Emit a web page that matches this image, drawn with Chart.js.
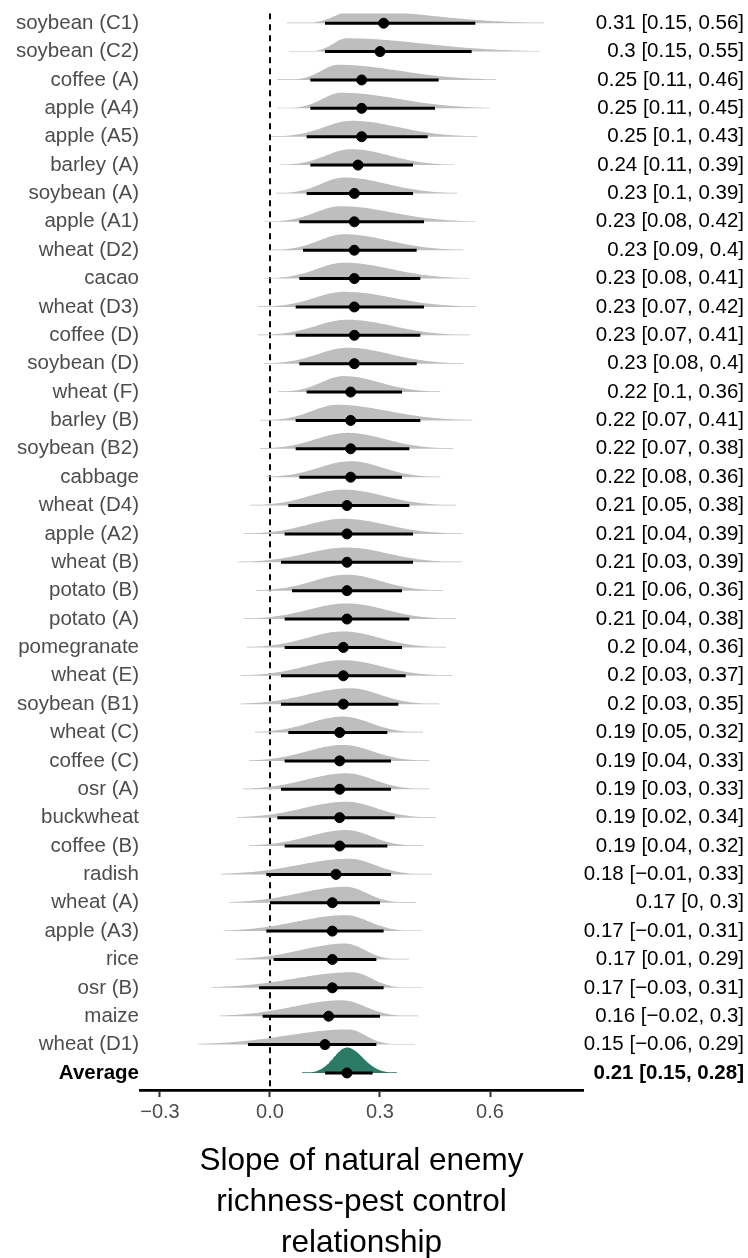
<!DOCTYPE html>
<html>
<head>
<meta charset="utf-8">
<script src="https://cdn.jsdelivr.net/npm/chart.js"></script>
<style>
    body { margin: 0; background: #fff; }
    #wrap { width: 748px; height: 1258px; }
</style>
</head>
<body>
<div id="wrap"><canvas id="myChart"></canvas></div>

<script>
    // Datos (de arriba abajo)
    var categories = ['soybean (C1)', 'soybean (C2)', 'coffee (A)', 'apple (A4)', 'apple (A5)', 'barley (A)',
        'soybean (A)', 'apple (A1)', 'wheat (D2)', 'cacao', 'wheat (D3)', 'coffee (D)', 'soybean (D)',
        'wheat (F)', 'barley (B)', 'soybean (B2)', 'cabbage', 'wheat (D4)', 'apple (A2)', 'wheat (B)',
        'potato (B)', 'potato (A)', 'pomegranate', 'wheat (E)', 'soybean (B1)', 'wheat (C)', 'coffee (C)',
        'osr (A)', 'buckwheat', 'coffee (B)', 'radish', 'wheat (A)', 'apple (A3)', 'rice', 'osr (B)',
        'maize', 'wheat (D1)', 'Average'];
    var estimate = [0.31, 0.3, 0.25, 0.25, 0.25, 0.24, 0.23, 0.23, 0.23, 0.23, 0.23, 0.23, 0.23,
        0.22, 0.22, 0.22, 0.22, 0.21, 0.21, 0.21, 0.21, 0.21, 0.2, 0.2, 0.2, 0.19, 0.19,
        0.19, 0.19, 0.19, 0.18, 0.17, 0.17, 0.17, 0.17, 0.16, 0.15, 0.21];
    var lower = [0.15, 0.15, 0.11, 0.11, 0.1, 0.11, 0.1, 0.08, 0.09, 0.08, 0.07, 0.07, 0.08,
        0.1, 0.07, 0.07, 0.08, 0.05, 0.04, 0.03, 0.06, 0.04, 0.04, 0.03, 0.03, 0.05, 0.04,
        0.03, 0.02, 0.04, -0.01, 0, -0.01, 0.01, -0.03, -0.02, -0.06, 0.15];
    var upper = [0.56, 0.55, 0.46, 0.45, 0.43, 0.39, 0.39, 0.42, 0.4, 0.41, 0.42, 0.41, 0.4,
        0.36, 0.41, 0.38, 0.36, 0.38, 0.39, 0.39, 0.36, 0.38, 0.36, 0.37, 0.35, 0.32, 0.33,
        0.33, 0.34, 0.32, 0.33, 0.3, 0.31, 0.29, 0.31, 0.3, 0.29, 0.28];
    var xTicks = [-0.3, 0, 0.3, 0.6];

    var last = categories.length - 1;
    var rowPx = 28.46;
    Chart.defaults.font.family = "'Liberation Sans', Arial, Helvetica, sans-serif";

    function fmt(v) { return String(v).replace('-', '\u2212'); }
    var rightText = estimate.map(function (e, i) {
        return fmt(e) + ' [' + fmt(lower[i]) + ', ' + fmt(upper[i]) + ']';
    });

    // densidad (medio ojo) construida a partir de estimación e intervalo
    function densityData(i) {
        var e = estimate[i], lo = lower[i], hi = upper[i];
        var dL = (e - lo) / 1.645, dR = (hi - e) / 1.645;
        var mode = i === last ? e : e - 1.5 * (dR - dL);
        var sL = (mode - lo) / 1.645, sR = (hi - mode) / 1.645;
        var peak = i === last ? 25.5 : Math.max(12, Math.min(16, 3.24 / (sL + sR)));
        var a = i === last ? e - 2.05 * (e - lo) : e - 1.65 * (e - lo);
        var b = i === last ? e + 1.95 * (hi - e) : e + 1.75 * (hi - e);
        var pts = [];
        var n = 120;
        for (var k = 0; k <= n; k++) {
            var x = a + (b - a) * k / n;
            var s = x < mode ? sL : sR;
            var z = (x - mode) / s;
            var h = peak * Math.exp(-0.5 * z * z);
            if (h < 0.7) h = 0.7;
            pts.push({ x: x, y: i - h / rowPx });
        }
        return pts;
    }

    var datasets = [];
    // línea discontinua en cero
    datasets.push({
        type: 'line', data: [{ x: 0, y: -0.35 }, { x: 0, y: 37.6 }],
        borderColor: '#000', borderWidth: 2, borderDash: [6, 5], pointRadius: 0, order: 100
    });
    categories.forEach(function (c, i) {
        datasets.push({
            type: 'line', data: densityData(i),
            borderWidth: 0, borderColor: 'rgba(0,0,0,0)', pointRadius: 0,
            backgroundColor: i === last ? '#2A7A66' : '#BEBEBE',
            fill: { value: i }, order: 50
        });
    });
    var intervals = [];
    categories.forEach(function (c, i) {
        intervals.push({ x: lower[i], y: i }, { x: upper[i], y: i }, { x: upper[i], y: null });
    });
    datasets.push({
        type: 'line', data: intervals, borderColor: '#000', borderWidth: 3,
        pointRadius: 0, spanGaps: false, fill: false, order: 10
    });
    datasets.push({
        type: 'scatter', data: estimate.map(function (e, i) { return { x: e, y: i }; }),
        backgroundColor: '#000', borderColor: '#000', pointRadius: 5, borderWidth: 1, order: 0
    });

    var rowTicks = function (axis) {
        axis.ticks = categories.map(function (c, i) { return { value: i }; });
    };

    var ctx = document.getElementById('myChart').getContext('2d');
    var myChart = new Chart(ctx, {
        type: 'scatter',
        data: { datasets: datasets },
        options: {
            responsive: true,
            maintainAspectRatio: false,
            animation: false,
            layout: { padding: { top: 10, right: 4, bottom: 0, left: 0 } },
            plugins: { legend: { display: false }, tooltip: { enabled: false } },
            scales: {
                x: {
                    type: 'linear', min: -0.3545, max: 0.8536,
                    afterBuildTicks: function (axis) {
                        axis.ticks = xTicks.map(function (v) { return { value: v }; });
                    },
                    afterFit: function (axis) { axis.height = 168; },
                    border: { display: true, color: '#000', width: 2.8 },
                    grid: { drawOnChartArea: false, drawTicks: true, tickLength: 7, tickColor: '#333', tickWidth: 2 },
                    ticks: {
                        color: '#4D4D4D', padding: 3, font: { size: 20 },
                        callback: function (v) { return fmt(v.toFixed(1)); }
                    },
                    title: {
                        display: true,
                        text: ['Slope of natural enemy', 'richness-pest control', 'relationship'],
                        color: '#000', font: { size: 31.5, lineHeight: 1.3 },
                        padding: { top: 0, bottom: -6 }
                    }
                },
                y: {
                    type: 'linear', position: 'left', reverse: true, min: -0.35, max: 37.6,
                    afterBuildTicks: rowTicks,
                    afterFit: function (axis) { axis.width = 140; },
                    border: { display: false },
                    grid: { display: false, drawTicks: false },
                    ticks: {
                        padding: 1, autoSkip: false,
                        color: function (c) { return c.index === last ? '#000' : '#4D4D4D'; },
                        font: function (c) { return { size: 20.5, weight: c.index === last ? 'bold' : 'normal' }; },
                        callback: function (v) { return categories[v]; }
                    }
                },
                y2: {
                    type: 'linear', position: 'right', reverse: true, min: -0.35, max: 37.6,
                    afterBuildTicks: rowTicks,
                    afterFit: function (axis) { axis.width = 161; },
                    border: { display: false },
                    grid: { display: false, drawTicks: false },
                    ticks: {
                        padding: 0, autoSkip: false, crossAlign: 'far', color: '#000',
                        font: function (c) { return { size: 20.5, weight: c.index === last ? 'bold' : 'normal' }; },
                        callback: function (v) { return rightText[v]; }
                    }
                }
            }
        }
    });
</script>
</body>
</html>
